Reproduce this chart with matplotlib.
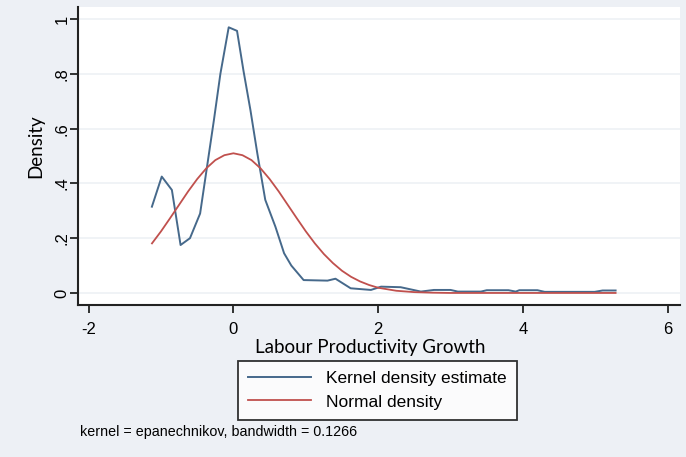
import matplotlib
matplotlib.use("Agg")
import matplotlib.pyplot as plt

# kernel density estimate
KDE_X = [-1.126, -0.99, -0.85, -0.73, -0.60, -0.46, -0.365, -0.27, -0.18, -0.065,
         0.05, 0.14, 0.235, 0.33, 0.44, 0.58, 0.70, 0.80, 0.97, 1.30, 1.41, 1.62,
         1.90, 2.04, 2.31, 2.59, 2.77, 3.00, 3.10, 3.42, 3.50, 3.80, 3.90, 3.95,
         4.20, 4.30, 4.99, 5.10, 5.28]
KDE_Y = [0.315, 0.425, 0.376, 0.175, 0.200, 0.290, 0.460, 0.630, 0.800, 0.970,
         0.957, 0.810, 0.668, 0.510, 0.340, 0.242, 0.145, 0.100, 0.047, 0.045, 0.052, 0.017,
         0.011, 0.023, 0.021, 0.005, 0.011, 0.011, 0.005, 0.005, 0.010, 0.010, 0.005, 0.010,
         0.010, 0.004, 0.004, 0.009, 0.009]

# normal density overlay
NORM_X = [-1.125, -1.0, -0.875, -0.75, -0.625, -0.5, -0.375, -0.25, -0.125, 0.0,
          0.125, 0.25, 0.375, 0.5, 0.625, 0.75, 0.875, 1.0, 1.125, 1.25, 1.375,
          1.5, 1.625, 1.75, 1.875, 2.0, 2.25, 2.5, 2.75, 3.0, 5.28]
NORM_Y = [0.181, 0.225, 0.273, 0.322, 0.371, 0.416, 0.455, 0.485, 0.503, 0.510,
          0.503, 0.485, 0.455, 0.416, 0.371, 0.322, 0.273, 0.225, 0.181, 0.142, 0.109,
          0.081, 0.059, 0.042, 0.029, 0.019, 0.008, 0.003, 0.001, 0.0, 0.0]

X_TICKS = [-2, 0, 2, 4, 6]
Y_TICKS = [0, 0.2, 0.4, 0.6, 0.8, 1.0]
Y_TICKLABELS = ["0", ".2", ".4", ".6", ".8", "1"]

BG = "#edf0f5"
BLUE = "#46698b"
RED = "#c0504d"

fig = plt.figure(figsize=(6.86, 4.57), dpi=100)
fig.patch.set_facecolor(BG)
ax = fig.add_axes([0.1137, 0.3326, 0.8776, 0.652])
ax.set_facecolor("white")

ax.plot(KDE_X, KDE_Y, color=BLUE, lw=1.4, label="Kernel density estimate")
ax.plot(NORM_X, NORM_Y, color=RED, lw=1.3, label="Normal density")

ax.set_xlim(-2.147, 6.17)
ax.set_ylim(-0.044, 1.044)
ax.set_xticks(X_TICKS)
ax.set_xticklabels([str(t) for t in X_TICKS], fontsize=12, family="Liberation Sans")
ax.set_yticks(Y_TICKS)
ax.set_yticklabels(Y_TICKLABELS, fontsize=12, family="Liberation Sans",
                   rotation=90, va="center")
ax.tick_params(axis="both", length=6, width=1.3, color="#222222")
ax.tick_params(axis="x", pad=6)
ax.tick_params(axis="y", pad=0)
ax.grid(axis="y", color="#eef1f5", lw=1.2, zorder=0)
for s in ["top", "right"]:
    ax.spines[s].set_visible(False)
for s in ["left", "bottom"]:
    ax.spines[s].set_linewidth(1.5)
    ax.spines[s].set_color("#222222")

fig.text(36 / 686, 1 - 146 / 457, "Density", fontsize=13.5, family="Lato",
         rotation=90, ha="center", va="center")
fig.text(370 / 686, 1 - 347 / 457, "Labour Productivity Growth", fontsize=13.5,
         family="Lato", ha="center", va="center")

leg = fig.legend(loc="upper left", bbox_to_anchor=(238 / 686, 1 - 361 / 457),
                 prop={"family": "Liberation Sans", "size": 12.5},
                 frameon=True, fancybox=False, handlelength=3.6,
                 handletextpad=0.9, labelspacing=0.47, borderpad=0.58,
                 borderaxespad=0)
leg.get_frame().set_edgecolor("black")
leg.get_frame().set_linewidth(1.3)
leg.get_frame().set_facecolor("white")

fig.text(80 / 686, 1 - 432 / 457, "kernel = epanechnikov, bandwidth = 0.1266",
         fontsize=10.3, family="Liberation Sans", ha="left", va="center")

fig.savefig("out.png", dpi=100, facecolor=fig.get_facecolor())
